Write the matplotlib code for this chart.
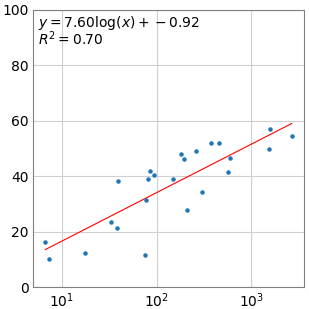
import numpy as np
import matplotlib
matplotlib.use("Agg")
import matplotlib.pyplot as plt

# data
x_vals = [6.7, 7.4, 17.5, 33, 38.5, 39, 76, 77, 81, 85, 93, 150, 179, 193,
          207, 262, 301, 374, 459, 571, 600, 1525, 1572, 2660]
y_vals = [16.1, 10.0, 12.4, 23.6, 21.4, 38.4, 11.6, 31.4, 39.1, 41.8, 40.3,
          38.9, 47.9, 46.2, 27.9, 49.2, 34.2, 52.0, 52.0, 41.6, 46.6, 49.8,
          57.0, 54.6]
slope = 7.60
intercept = -0.92
r_squared = 0.70

fig = plt.figure(figsize=(3.09, 3.09), dpi=100)
ax = fig.add_axes([0.107, 0.071, 0.877, 0.897])

ax.scatter(x_vals, y_vals, s=5, color="tab:blue", zorder=3)
xs = np.linspace(min(x_vals), max(x_vals), 200)
ax.plot(xs, slope * np.log(xs) + intercept, color="red", lw=0.8, zorder=2)

ax.set_xscale("log")
ax.set_ylim(0, 100)
ax.minorticks_off()
ax.grid(True, color="#d0d0d0", lw=0.8)
ax.set_axisbelow(True)
for sp in ax.spines.values():
    sp.set_color("#808080")
ax.tick_params(labelsize=10, length=0, pad=3)

ax.text(0.02, 0.985, "$y = {:.2f}\\log(x) + {:.2f}$\n$R^2 = {:.2f}$".format(slope, intercept, r_squared),
        transform=ax.transAxes, ha="left", va="top", fontsize=10, linespacing=0.8)

fig.savefig("out.png", dpi=100)
